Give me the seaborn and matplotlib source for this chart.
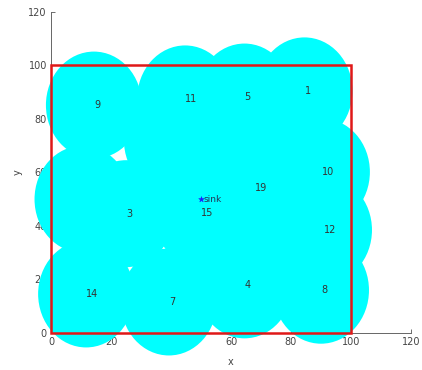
import matplotlib
matplotlib.use("Agg")
import matplotlib.pyplot as plt
from matplotlib.patches import Ellipse, Rectangle
import seaborn as sns
import pandas as pd

# Sensor node positions (id, x, y) inside the 100 x 100 monitoring field
node_ids = [1, 2, 3, 4, 5, 6, 7, 8, 9, 10, 11, 12, 13, 14, 15, 16, 17, 18, 19]
node_x = [84.5, 10.5, 25.0, 64.5, 64.5, 40.3, 39.3, 90.0, 14.3, 90.3, 44.7, 91.0,
          56.0, 11.7, 50.0, 58.0, 72.0, 72.0, 68.0]
node_y = [90.5, 50.0, 44.6, 18.0, 88.2, 72.1, 11.6, 16.0, 85.2, 60.2, 87.5, 38.5,
          60.0, 14.6, 44.9, 67.0, 67.0, 40.0, 54.2]

# Sink node
sink_x = [50.0]
sink_y = [50.0]
sink_label = "sink"

# Monitoring field and axis ticks
field_w, field_h = 100, 100
ticks = [0, 20, 40, 60, 80, 100, 120]

sns.set_theme(style="ticks")
plt.rcParams["font.family"] = ["DejaVu Sans"]

fig = plt.figure(figsize=(4.22, 3.70), dpi=100)
ax = fig.add_axes([0.1209, 0.10, 0.853, 0.8676])

nodes = pd.DataFrame({"id": node_ids, "x": node_x, "y": node_y})

# Sensing coverage: each node's disc followed by its label, drawn in id order
cover_w, cover_h = 32, 40
for i, row in nodes.iterrows():
    z = 3 + i * 0.1
    ax.add_patch(Ellipse((row.x, row.y), cover_w, cover_h, facecolor="#00ffff",
                         edgecolor="none", clip_on=False, zorder=z))
    ax.text(row.x, row.y, str(int(row.id)), ha="left", va="center", fontsize=7,
            color="#333333", zorder=z + 0.05, clip_on=False)

# Field boundary
ax.add_patch(Rectangle((0, 0), field_w, field_h, fill=False, edgecolor="#e01818",
                       linewidth=1.8, zorder=6, clip_on=False))

# Sink
sns.scatterplot(x=sink_x, y=sink_y, marker="*", s=18, color="#1a1aff",
                edgecolor="#1a1aff", ax=ax, zorder=7, legend=False)
ax.text(sink_x[0] + 0.8, sink_y[0], sink_label, ha="left", va="center", fontsize=6.5,
        color="#223355", zorder=7)

ax.set_xlim(0, 120)
ax.set_ylim(0, 120)
ax.set_xticks(ticks)
ax.set_yticks(ticks)
ax.set_xticklabels([str(t) for t in ticks])
ax.set_yticklabels([str(t) for t in ticks])
ax.tick_params(direction="in", length=3, width=0.6, colors="#555555",
               labelsize=7, pad=3, labelcolor="#444444")
sns.despine(ax=ax)
for s in ("left", "bottom"):
    ax.spines[s].set_color("#666666")
    ax.spines[s].set_linewidth(0.7)
ax.set_xlabel("x", fontsize=7, color="#444444", labelpad=7)
ax.set_ylabel("y", fontsize=7, color="#444444", labelpad=4)
ax.set_facecolor("white")

fig.savefig("out.png", dpi=100)
